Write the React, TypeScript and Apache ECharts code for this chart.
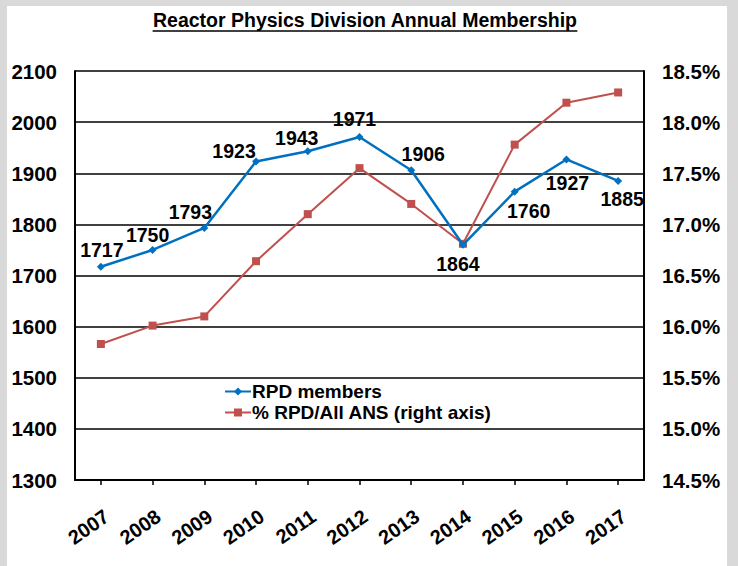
import React, { useEffect, useRef } from "react";
import * as echarts from "echarts";

const years = ["2007", "2008", "2009", "2010", "2011", "2012", "2013", "2014", "2015", "2016", "2017"];
const members = [1717, 1750, 1793, 1923, 1943, 1971, 1906, 1760, 1864, 1927, 1885];
const memberLabels = ["1717", "1750", "1793", "1923", "1943", "1971", "1906", "1864", "1760", "1927", "1885"];
const pctOfAll = [15.83, 16.01, 16.1, 16.64, 17.1, 17.55, 17.2, 16.81, 17.78, 18.19, 18.29];

const titleText = "Reactor Physics Division Annual Membership";
const seriesNames = ["RPD members", "% RPD/All ANS (right axis)"];

// label placement (style only)
const labelOffsets: [number, number][] = [
  [1, -17], [-5, -15], [-14, -16], [-22, -10], [-11, -13], [-5, -18],
  [12, -16], [-5, 19], [14, 19], [1, 24], [4, 18],
];

const FONT = "'Liberation Sans', Arial, Helvetica, sans-serif";
const BLUE = "#0070C0";
const RED = "#C0504D";

export default function App() {
  const ref = useRef<HTMLDivElement>(null);
  useEffect(() => {
    if (!ref.current) return;
    const chart = echarts.init(ref.current, null, { renderer: "svg" });

    const titleFont = `bold 19.5px ${FONT}`;
    const ctx = document.createElement("canvas").getContext("2d");
    let tw = 430;
    if (ctx) {
      ctx.font = titleFont;
      tw = ctx.measureText(titleText).width;
    }
    const tx = 365;
    const ty = 20;

    chart.setOption({
      animation: false,
      backgroundColor: "#d9d9d9",
      graphic: [
        {
          type: "rect",
          z: -100,
          silent: true,
          shape: { x: 7, y: 6, width: 720, height: 570 },
          style: { fill: "#ffffff" },
        },
        {
          type: "text",
          x: tx,
          y: ty,
          style: {
            text: titleText,
            font: titleFont,
            fill: "#000",
            align: "center",
            verticalAlign: "middle",
          },
        },
        {
          type: "line",
          shape: { x1: tx - tw / 2, y1: ty + 11, x2: tx + tw / 2, y2: ty + 11 },
          style: { stroke: "#000", lineWidth: 1.5 },
        },
      ],
      legend: {
        orient: "vertical",
        left: 219,
        top: 377,
        itemWidth: 26,
        itemHeight: 10,
        itemGap: 2,
        textStyle: { fontFamily: FONT, fontWeight: "bold", fontSize: 19, color: "#000", padding: [0, 0, 0, -4] },
        data: seriesNames,
      },
      grid: { left: 75, right: 94, top: 71, bottom: 86, containLabel: false },
      xAxis: {
        type: "category",
        data: years,
        boundaryGap: true,
        axisLine: { show: true, lineStyle: { color: "#000", width: 2 } },
        axisTick: { show: true, alignWithLabel: true, length: 5, lineStyle: { color: "#000", width: 1.5 } },
        axisLabel: {
          rotate: 35,
          margin: 26,
          verticalAlign: "top",
          align: "right",
          color: "#000",
          fontFamily: FONT,
          fontWeight: "bold",
          fontSize: 20,
          interval: 0,
        },
      },
      yAxis: [
        {
          type: "value",
          min: 1300,
          max: 2100,
          interval: 100,
          axisLine: { show: true, lineStyle: { color: "#000", width: 2 } },
          axisTick: { show: false },
          splitLine: { show: true, lineStyle: { color: "#000", width: 1.5 } },
          axisLabel: {
            margin: 18,
            color: "#000",
            fontFamily: FONT,
            fontWeight: "bold",
            fontSize: 20.5,
            formatter: (v: number) => String(v),
          },
        },
        {
          type: "value",
          position: "right",
          min: 14.5,
          max: 18.5,
          interval: 0.5,
          axisLine: { show: true, lineStyle: { color: "#000", width: 2 } },
          axisTick: { show: false },
          splitLine: { show: false },
          axisLabel: {
            margin: 18,
            color: "#000",
            fontFamily: FONT,
            fontWeight: "bold",
            fontSize: 20.5,
            formatter: (v: number) => v.toFixed(1) + "%",
          },
        },
      ],
      series: [
        {
          name: seriesNames[0],
          type: "line",
          yAxisIndex: 0,
          z: 4,
          symbol: "diamond",
          symbolSize: 8,
          itemStyle: { color: BLUE },
          lineStyle: { color: BLUE, width: 2.5 },
          data: members.map((v, i) => ({
            value: v,
            label: {
              show: true,
              position: "inside",
              offset: labelOffsets[i],
              formatter: () => memberLabels[i],
            },
          })),
          label: {
            show: true,
            color: "#000",
            fontFamily: FONT,
            fontWeight: "bold",
            fontSize: 19.5,
          },
        },
        {
          name: seriesNames[1],
          type: "line",
          yAxisIndex: 1,
          z: 3,
          symbol: "rect",
          symbolSize: 8,
          itemStyle: { color: RED },
          lineStyle: { color: RED, width: 2 },
          data: pctOfAll,
        },
      ],
    });
    return () => chart.dispose();
  }, []);

  return (
    <div
      ref={ref}
      style={{ position: "fixed", left: 0, top: 0, width: 738, height: 566, background: "#d9d9d9" }}
    />
  );
}
